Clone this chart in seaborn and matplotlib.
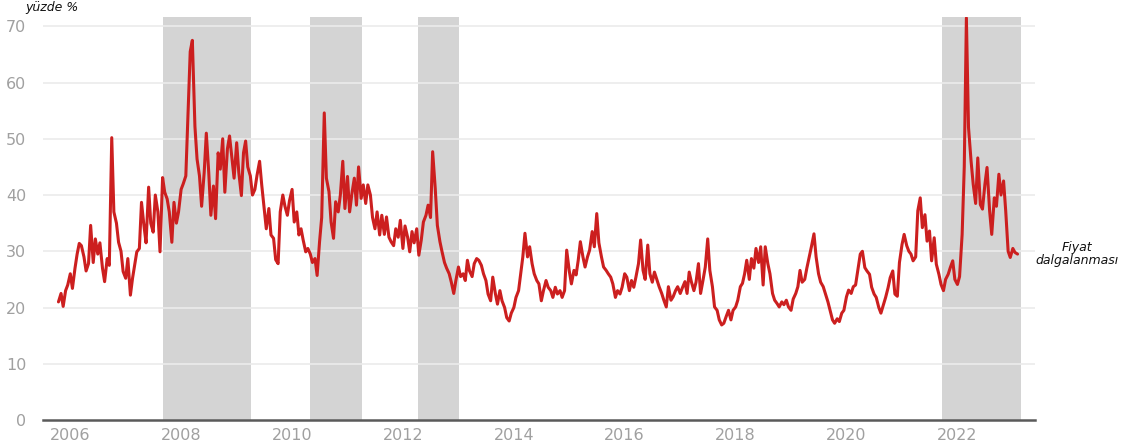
import matplotlib
matplotlib.use("Agg")
import matplotlib.pyplot as plt
import seaborn as sns
import pandas as pd
import numpy as np

# ---- data (semi-monthly readings, % volatility) ----
v2005 = [21.0, 22.5, 20.2, 23.0, 24.0]
v2006 = [26.0, 23.4, 27.0, 29.5, 31.4, 31.0, 29.0, 26.5, 27.8, 34.6, 28.0, 32.2,
         29.5, 31.5, 27.0, 24.6, 28.7, 27.5, 50.2, 37.0, 35.0, 31.6, 30.0, 26.4]
v2007 = [25.2, 28.7, 22.2, 25.2, 27.5, 29.9, 30.5, 38.7, 34.6, 31.5, 41.4, 35.0,
         33.4, 40.0, 37.0, 29.9, 43.1, 40.5, 39.3, 37.0, 31.6, 38.7, 35.0, 37.0]
v2008 = [41.0, 42.0, 43.4, 54.0, 65.5, 67.5, 52.2, 46.4, 43.4, 38.0, 44.0, 51.0,
         44.0, 36.4, 41.6, 35.8, 47.5, 44.6, 50.0, 40.5, 48.2, 50.5, 46.4, 43.0]
v2009 = [49.3, 44.0, 39.9, 47.5, 49.6, 45.0, 43.4, 40.0, 41.0, 43.5, 46.0, 41.8,
         37.6, 34.0, 37.6, 32.9, 32.3, 28.5, 27.8, 37.0, 40.0, 38.0, 36.4, 39.0]
v2010 = [41.0, 35.2, 37.0, 32.9, 34.0, 32.0, 29.9, 30.5, 29.5, 28.0, 28.7, 25.7,
         31.7, 36.0, 54.6, 43.0, 40.6, 35.2, 32.3, 38.8, 37.0, 40.0, 46.0, 37.6]
v2011 = [43.3, 37.0, 40.6, 43.0, 38.2, 45.0, 39.4, 41.8, 38.5, 41.8, 40.0, 36.0,
         34.0, 37.0, 32.9, 36.4, 33.0, 36.1, 32.5, 31.7, 31.0, 34.0, 32.5, 35.5]
v2012 = [30.5, 34.5, 32.5, 29.9, 33.5, 31.5, 34.0, 29.3, 32.0, 35.2, 36.4, 38.2,
         36.0, 47.7, 41.2, 34.6, 31.7, 29.9, 28.0, 27.0, 26.0, 24.5, 22.5, 24.8]
v2013 = [27.2, 25.5, 26.0, 24.8, 28.4, 26.5, 25.5, 27.8, 28.7, 28.4, 27.5, 26.0,
         24.8, 22.4, 21.2, 25.4, 22.5, 20.6, 23.0, 21.2, 20.0, 18.2, 17.6, 19.0]
v2014 = [20.0, 21.8, 23.0, 26.0, 29.0, 33.2, 29.0, 30.8, 27.8, 26.0, 24.8, 24.2,
         21.2, 23.0, 24.8, 23.6, 23.0, 21.8, 23.6, 22.4, 23.0, 21.8, 23.0, 30.2]
v2015 = [26.5, 24.2, 26.6, 25.8, 28.4, 31.7, 29.0, 27.2, 29.0, 30.2, 33.5, 30.8,
         36.7, 31.5, 29.0, 27.2, 26.6, 26.0, 25.4, 24.2, 21.8, 23.0, 22.4, 23.6]
v2016 = [26.0, 25.4, 23.0, 24.8, 23.6, 25.4, 27.8, 32.0, 26.6, 25.0, 31.1, 26.0,
         24.5, 26.3, 24.9, 23.7, 22.5, 21.3, 20.1, 23.7, 21.3, 21.9, 23.0, 23.7]
v2017 = [22.5, 23.5, 24.6, 22.5, 26.3, 24.6, 23.0, 24.5, 27.8, 22.5, 25.0, 27.2,
         32.2, 26.6, 23.7, 20.1, 19.5, 17.8, 16.9, 17.2, 18.5, 19.5, 17.8, 19.5]
v2018 = [20.1, 21.3, 23.7, 24.3, 26.0, 28.4, 25.0, 28.7, 27.0, 30.5, 28.0, 30.8,
         24.0, 30.8, 27.8, 26.0, 22.5, 21.3, 20.7, 20.1, 21.0, 20.5, 21.3, 20.1]
v2019 = [19.5, 21.5, 22.5, 23.7, 26.6, 24.5, 25.0, 27.0, 29.0, 30.8, 33.1, 29.0,
         26.0, 24.5, 23.7, 22.5, 21.0, 19.5, 17.8, 17.2, 18.0, 17.5, 19.0, 19.5]
v2020 = [21.9, 23.1, 22.5, 23.7, 24.0, 26.5, 29.5, 30.0, 27.1, 26.5, 25.9, 23.6,
         22.4, 21.8, 20.0, 19.0, 20.5, 21.8, 23.5, 25.3, 26.5, 22.4, 22.0, 28.0]
v2021 = [31.2, 33.0, 31.0, 30.0, 29.5, 28.3, 29.0, 37.2, 39.5, 34.2, 36.5, 31.8,
         33.6, 28.3, 32.4, 27.7, 25.9, 24.1, 23.0, 25.0, 25.9, 27.1, 28.3, 25.0]
v2022 = [24.1, 25.5, 33.0, 45.0, 71.5, 52.0, 46.0, 41.9, 38.5, 46.6, 38.3, 37.5,
         41.9, 44.9, 37.2, 33.0, 39.5, 38.0, 43.7, 40.0, 42.5, 37.2, 30.0, 28.9]
v2023 = [30.5, 29.8, 29.5]

series_start = "2005-10-15"
span_starts = ["2007-09-06", "2010-04-30", "2012-04-08", "2021-09-24"]
span_ends = ["2009-04-08", "2011-04-08", "2013-01-05", "2023-02-21"]
tick_years = [2006, 2008, 2010, 2012, 2014, 2016, 2018, 2020, 2022]
y_ticks = [0, 10, 20, 30, 40, 50, 60, 70]

values = (v2005 + v2006 + v2007 + v2008 + v2009 + v2010 + v2011 + v2012 + v2013 +
          v2014 + v2015 + v2016 + v2017 + v2018 + v2019 + v2020 + v2021 + v2022 + v2023)
dates = pd.date_range(series_start, periods=len(values), freq="SMS")
df = pd.DataFrame({"date": dates, "value": values})

sns.set_style("white")
plt.rcParams["font.family"] = ["DejaVu Sans"]

fig = plt.figure(figsize=(11.25, 4.47), dpi=100)
ax = fig.add_axes([0.0382, 0.0604, 0.8818, 0.9009])

for s, e in zip(span_starts, span_ends):
    ax.axvspan(pd.Timestamp(s), pd.Timestamp(e), color="#d4d4d4", lw=0, zorder=0.2)

for yv in y_ticks[1:]:
    ax.axhline(yv, color="#ebebeb", lw=1.2, zorder=0.5)

sns.lineplot(data=df, x="date", y="value", color="#cc1f1f", linewidth=2.2, ax=ax,
             zorder=3)

ax.set_ylim(0, 71.6)
ax.set_xlim(pd.Timestamp("2005-07-05"), pd.Timestamp("2023-05-27"))
ax.set_yticks(y_ticks)
ax.set_yticklabels([str(v) for v in y_ticks])
ax.set_xticks([pd.Timestamp(f"{y}-01-01") for y in tick_years])
ax.set_xticklabels([str(y) for y in tick_years])
ax.tick_params(axis="both", length=0, labelsize=11.5, labelcolor="#a0a0a0")
ax.tick_params(axis="y", pad=12)
ax.tick_params(axis="x", pad=6)
ax.set_xlabel("")
ax.set_ylabel("")
for side in ["top", "right", "left"]:
    ax.spines[side].set_visible(False)
ax.spines["bottom"].set_color("#5a5a5a")
ax.spines["bottom"].set_linewidth(1.8)
ax.grid(False)

fig.text(25 / 1125, 1 - 7 / 447, "yüzde %", fontsize=9, style="italic",
         ha="left", va="center", color="#111111")
fig.text(1077 / 1125, 1 - 254 / 447, "Fiyat\ndalgalanması", fontsize=9,
         style="italic", ha="center", va="center", color="#111111", linespacing=1.0)

fig.savefig("out.png", dpi=100)
